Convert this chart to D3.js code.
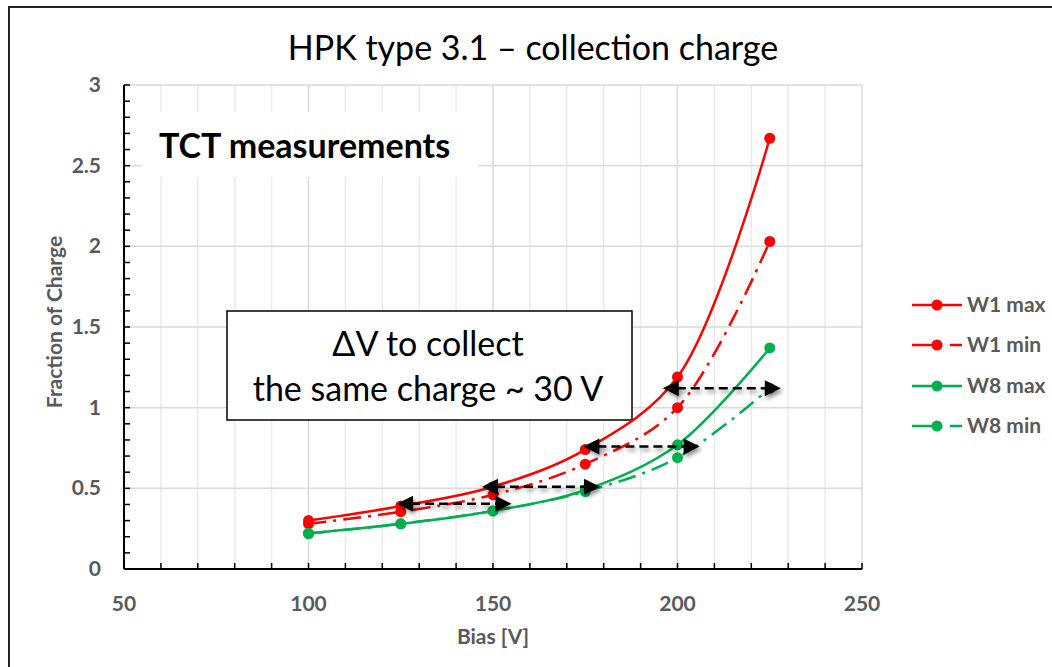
<!DOCTYPE html>
<html>
<head>
<meta charset="utf-8">
<script src="https://cdn.jsdelivr.net/npm/d3@7/dist/d3.min.js"></script>
<style>
  html, body { margin: 0; padding: 0; background: #fff; }
  svg { display: block; }
</style>
</head>
<body>
<svg id="chart" width="1052" height="667"></svg>
<script>
// Bias points (V) and fraction of collected charge for each wafer
const bias = [100, 125, 150, 175, 200, 225];
const w1Max = [0.30, 0.39, 0.51, 0.74, 1.19, 2.67];
const w1Min = [0.28, 0.355, 0.46, 0.65, 1.00, 2.03];
const w8Max = [0.22, 0.28, 0.36, 0.49, 0.77, 1.37];
const w8Min = [0.22, 0.28, 0.36, 0.48, 0.69, 1.12];

const seriesNames = ["W1 max", "W1 min", "W8 max", "W8 min"];
const xTicks = [50, 100, 150, 200, 250];
const yTicks = [0, 0.5, 1, 1.5, 2, 2.5, 3];

// ΔV arrows: charge level and bias span
const arrowY = [0.405, 0.51, 0.76, 1.12];
const arrowFrom = [124, 147, 174.5, 196];
const arrowTo = [155, 179, 206, 228];

const series = [
  { name: seriesNames[0], values: w1Max, color: "#ff0000", dash: null },
  { name: seriesNames[1], values: w1Min, color: "#ff0000", dash: "18,7,3,7" },
  { name: seriesNames[2], values: w8Max, color: "#00b050", dash: null },
  { name: seriesNames[3], values: w8Min, color: "#00b050", dash: "18,7,3,7" }
];

const svg = d3.select("#chart");
const FONT = "Lato, 'Open Sans', sans-serif";

const x = d3.scaleLinear().domain([50, 250]).range([124, 862]);
const y = d3.scaleLinear().domain([0, 3]).range([569, 85]);

// outer frame
svg.append("rect")
  .attr("x", 9).attr("y", 7).attr("width", 1100).attr("height", 700)
  .attr("fill", "#fff").attr("stroke", "#222").attr("stroke-width", 2);

const defs = svg.append("defs");
const f = defs.append("filter").attr("id", "shadow")
  .attr("x", "-20%").attr("y", "-50%").attr("width", "140%").attr("height", "200%");
f.append("feDropShadow").attr("dx", 2).attr("dy", 3).attr("stdDeviation", 2)
  .attr("flood-color", "#000").attr("flood-opacity", 0.45);

// title
svg.append("text")
  .attr("x", 533).attr("y", 60)
  .attr("text-anchor", "middle")
  .style("font-family", FONT).style("font-size", "34px").attr("fill", "#000")
  .text("HPK type 3.1 – collection charge");

// grid
const g = svg.append("g");
g.selectAll(".vgrid").data(d3.range(60, 251, 10)).join("line")
  .attr("x1", d => x(d)).attr("x2", d => x(d))
  .attr("y1", y(3)).attr("y2", y(0))
  .attr("stroke", d => d % 50 === 0 ? "#d9d9d9" : "#ebebeb")
  .attr("stroke-width", 1.5);
g.selectAll(".hgrid").data(yTicks.filter(d => d > 0)).join("line")
  .attr("x1", x(50)).attr("x2", x(250))
  .attr("y1", d => y(d)).attr("y2", d => y(d))
  .attr("stroke", "#d9d9d9").attr("stroke-width", 1.5);

// white panel behind the "TCT measurements" label
g.append("rect").attr("x", 142).attr("y", 112).attr("width", 336).attr("height", 65)
  .attr("fill", "#fff");
g.append("text").attr("x", 159).attr("y", 158)
  .style("font-family", FONT).style("font-size", "34px").style("font-weight", "bold")
  .attr("fill", "#000").text("TCT measurements");

// annotation box
g.append("rect").attr("x", 227).attr("y", 311).attr("width", 405).attr("height", 109)
  .attr("fill", "#fff").attr("stroke", "#000").attr("stroke-width", 1.5);
g.append("text").attr("x", 428).attr("y", 356).attr("text-anchor", "middle")
  .style("font-family", FONT).style("font-size", "34px").attr("fill", "#000")
  .text("ΔV to collect");
g.append("text").attr("x", 428).attr("y", 401).attr("text-anchor", "middle")
  .style("font-family", FONT).style("font-size", "34px").attr("fill", "#000")
  .text("the same charge ~ 30 V");

// axes
const axG = svg.append("g");
axG.selectAll(".ytick").data(d3.range(0, 31, 1)).join("line")
  .attr("x1", x(50)).attr("x2", x(50) + 6)
  .attr("y1", d => y(d / 10)).attr("y2", d => y(d / 10))
  .attr("stroke", "#000").attr("stroke-width", 1.5);
axG.selectAll(".xtick").data(d3.range(50, 251, 10)).join("line")
  .attr("x1", d => x(d)).attr("x2", d => x(d))
  .attr("y1", y(0)).attr("y2", y(0) - 6)
  .attr("stroke", "#000").attr("stroke-width", 1.5);
axG.append("line").attr("x1", x(50)).attr("x2", x(50)).attr("y1", y(3)).attr("y2", y(0))
  .attr("stroke", "#000").attr("stroke-width", 2);
axG.append("line").attr("x1", x(50)).attr("x2", x(250)).attr("y1", y(0)).attr("y2", y(0))
  .attr("stroke", "#000").attr("stroke-width", 2);

axG.selectAll(".ylab").data(yTicks).join("text")
  .attr("x", 101).attr("y", d => y(d) + 7).attr("text-anchor", "end")
  .style("font-family", FONT).style("font-size", "21px").style("font-weight", "bold")
  .attr("fill", "#595959").text(d => d);
axG.selectAll(".xlab").data(xTicks).join("text")
  .attr("x", d => x(d)).attr("y", 611).attr("text-anchor", "middle")
  .style("font-family", FONT).style("font-size", "21px").style("font-weight", "bold")
  .attr("fill", "#595959").text(d => d);

svg.append("text").attr("x", x(150)).attr("y", 644).attr("text-anchor", "middle")
  .style("font-family", FONT).style("font-size", "21px").style("font-weight", "bold")
  .attr("fill", "#595959").text("Bias [V]");
svg.append("text").attr("transform", `translate(62,${(y(0) + y(3)) / 2 - 5}) rotate(-90)`)
  .attr("text-anchor", "middle")
  .style("font-family", FONT).style("font-size", "21px").style("font-weight", "bold")
  .attr("fill", "#595959").text("Fraction of Charge");

// series
const line = d3.line()
  .x((d, i) => x(bias[i]))
  .y(d => y(d))
  .curve(d3.curveCatmullRom.alpha(0.5));

const sG = svg.append("g");
series.forEach(s => {
  sG.append("path").datum(s.values)
    .attr("d", line).attr("fill", "none")
    .attr("stroke", s.color).attr("stroke-width", 2.5)
    .attr("stroke-dasharray", s.dash);
  sG.selectAll(null).data(s.values).join("circle")
    .attr("cx", (d, i) => x(bias[i])).attr("cy", d => y(d)).attr("r", 5.5)
    .attr("fill", s.color);
});

// ΔV arrows
const aG = svg.append("g").attr("filter", "url(#shadow)");
arrowY.forEach((v, i) => {
  const yy = y(v), xa = x(arrowFrom[i]), xb = x(arrowTo[i]);
  const head = 16, hw = 8;
  aG.append("line").attr("x1", xa + head - 2).attr("x2", xb - head + 2)
    .attr("y1", yy).attr("y2", yy)
    .attr("stroke", "#000").attr("stroke-width", 2.5).attr("stroke-dasharray", "9,5");
  aG.append("path").attr("d", `M${xa},${yy} L${xa + head},${yy - hw} L${xa + head},${yy + hw} Z`)
    .attr("fill", "#000");
  aG.append("path").attr("d", `M${xb},${yy} L${xb - head},${yy - hw} L${xb - head},${yy + hw} Z`)
    .attr("fill", "#000");
});

// legend
const legY = [305, 345, 386, 426];
const lg = svg.append("g");
series.forEach((s, i) => {
  const ly = legY[i];
  lg.append("line").attr("x1", 912).attr("x2", 962).attr("y1", ly).attr("y2", ly)
    .attr("stroke", s.color).attr("stroke-width", 2.5)
    .attr("stroke-dasharray", s.dash ? "27,11,12" : null);
  lg.append("circle").attr("cx", 937).attr("cy", ly).attr("r", 5.5).attr("fill", s.color);
  lg.append("text").attr("x", 967).attr("y", ly + 7)
    .style("font-family", FONT).style("font-size", "21px").style("font-weight", "bold")
    .attr("fill", "#595959").text(s.name);
});
</script>
</body>
</html>
